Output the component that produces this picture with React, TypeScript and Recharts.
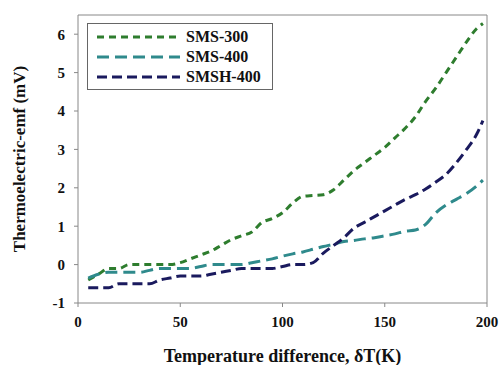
import { LineChart, Line, XAxis, YAxis, ReferenceLine, Label } from "recharts";

const deltaT = [5, 10, 15, 20, 25, 30, 35, 40, 45, 50, 55, 60, 65, 70, 75, 80, 85, 90, 95, 100, 105, 110, 115, 120, 125, 130, 135, 140, 145, 150, 155, 160, 165, 170, 175, 180, 185, 190, 195, 198];

const sms300 = [-0.4, -0.25, -0.1, -0.1, 0, 0, 0, 0, 0, 0.05, 0.15, 0.25, 0.35, 0.5, 0.65, 0.75, 0.85, 1.1, 1.2, 1.35, 1.6, 1.78, 1.8, 1.82, 1.95, 2.2, 2.45, 2.65, 2.85, 3.05, 3.3, 3.55, 3.85, 4.25, 4.6, 5.0, 5.4, 5.8, 6.15, 6.28];
const sms400 = [-0.35, -0.25, -0.2, -0.2, -0.2, -0.2, -0.15, -0.1, -0.1, -0.1, -0.1, -0.05, 0, 0, 0, 0, 0.05, 0.1, 0.15, 0.22, 0.28, 0.33, 0.4, 0.47, 0.53, 0.6, 0.63, 0.67, 0.7, 0.75, 0.8, 0.87, 0.9, 1.05, 1.35, 1.55, 1.7, 1.85, 2.05, 2.2];
const smsh400 = [-0.6, -0.6, -0.6, -0.5, -0.5, -0.5, -0.5, -0.4, -0.35, -0.3, -0.3, -0.3, -0.25, -0.2, -0.15, -0.1, -0.1, -0.1, -0.1, -0.05, 0, 0, 0.05, 0.3, 0.5, 0.7, 0.95, 1.1, 1.25, 1.4, 1.55, 1.7, 1.82, 1.97, 2.15, 2.35, 2.65, 3.0, 3.4, 3.75];

const xTicks = [0, 50, 100, 150, 200];
const yTicks = [-1, 0, 1, 2, 3, 4, 5, 6];

const series = [
  { key: "sms300", name: "SMS-300", color: "#2e7d2e", dash: "7 5" },
  { key: "sms400", name: "SMS-400", color: "#2f8a8c", dash: "12 6" },
  { key: "smsh400", name: "SMSH-400", color: "#1a1a5e", dash: "10 5" },
];

const data = deltaT.map((t, i) => ({ t, sms300: sms300[i], sms400: sms400[i], smsh400: smsh400[i] }));

const font = "Liberation Serif";
const tickStyle = { fontFamily: font, fontWeight: "bold", fontSize: 15, fill: "#111" };

function LegendBox() {
  return (
    <div style={{ position: "absolute", left: 87, top: 23, width: 186, height: 67, border: "1px solid #666", background: "#fff", boxSizing: "border-box", paddingTop: 3 }}>
      {series.map((s) => (
        <div key={s.key} style={{ display: "flex", alignItems: "center", height: 20 }}>
          <svg width={98} height={10}>
            <line x1={9} y1={5} x2={92} y2={5} stroke={s.color} strokeWidth={3} strokeDasharray={s.dash} />
          </svg>
          <span style={{ fontFamily: font, fontWeight: "bold", fontSize: 16, color: "#111", lineHeight: "16px" }}>{s.name}</span>
        </div>
      ))}
    </div>
  );
}

export default function App() {
  return (
    <div style={{ position: "absolute", left: 0, top: 0, width: 499, height: 365, background: "#fff" }}>
      <LineChart width={499} height={365} data={data} margin={{ top: 15, right: 12, bottom: 0, left: 0 }}>
        <XAxis
          dataKey="t"
          type="number"
          domain={[0, 200]}
          ticks={xTicks}
          height={62}
          tickSize={4}
          tickMargin={9}
          stroke="#888"
          tick={tickStyle}
        >
          <Label value="Temperature difference, δT(K)" position="insideBottom" offset={3} style={{ fontFamily: font, fontWeight: "bold", fontSize: 18, fill: "#111" }} />
        </XAxis>
        <YAxis
          type="number"
          domain={[-1, 6.5]}
          ticks={yTicks}
          width={78}
          tickSize={4}
          tickMargin={9}
          stroke="#888"
          tick={tickStyle}
        >
          <Label value="Thermoelectric-emf (mV)" angle={-90} position="insideLeft" offset={19} style={{ textAnchor: "middle", fontFamily: font, fontWeight: "bold", fontSize: 17, fill: "#111" }} />
        </YAxis>
        <ReferenceLine y={6.5} stroke="#888" />
        <ReferenceLine x={200} stroke="#888" />
        {series.map((s) => (
          <Line
            key={s.key}
            dataKey={s.key}
            name={s.name}
            type="monotone"
            stroke={s.color}
            strokeWidth={3}
            strokeDasharray={s.dash}
            dot={false}
            isAnimationActive={false}
          />
        ))}
      </LineChart>
      <LegendBox />
    </div>
  );
}
